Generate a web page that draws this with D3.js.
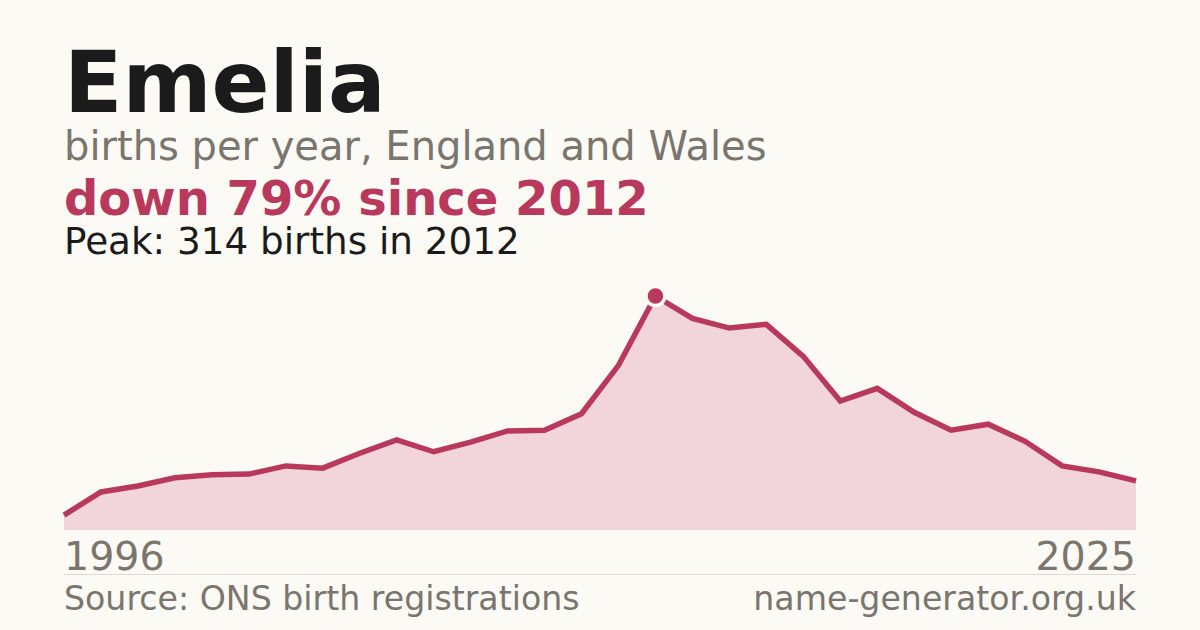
<!DOCTYPE html>
<html><head><meta charset="utf-8">
<script src="https://cdn.jsdelivr.net/npm/d3@7"></script>
<style>
html,body{margin:0;padding:0;background:#fbfaf5;}
svg{display:block;font-family:"DejaVu Sans",sans-serif;}
</style></head>
<body>
<svg id="c" width="1200" height="630"></svg>
<script>
const years = [1996,1997,1998,1999,2000,2001,2002,2003,2004,2005,2006,2007,2008,2009,2010,2011,2012,2013,2014,2015,2016,2017,2018,2019,2020,2021,2022,2023,2024,2025];
const births = [20,51,59,70,74,75,86,83,103,121,105,118,133,134,156,221,314,284,271,276,233,173,190,158,134,142,119,86,78,66];
const tickLabels = ["1996","2025"];
const title = "Emelia";
const subtitle = "births per year, England and Wales";
const headline = "down 79% since 2012";
const peakText = "Peak: 314 births in 2012";
const source = "Source: ONS birth registrations";
const site = "name-generator.org.uk";

const svg = d3.select("#c");
const L = 64, R = 1136, B = 530, T = 296;
const x = d3.scaleLinear().domain([years[0], years[years.length-1]]).range([L, R]);
const y = d3.scaleLinear().domain([0, d3.max(births)]).range([B, T]);
const data = years.map((yr,i)=>({yr, v:births[i]}));

svg.append("rect").attr("width",1200).attr("height",630).attr("fill","#fbfaf5");

svg.append("path").datum(data)
  .attr("d", d3.area().x(d=>x(d.yr)).y0(B).y1(d=>y(d.v)))
  .attr("fill","#f2d5da");
svg.append("path").datum(data)
  .attr("d", d3.line().x(d=>x(d.yr)).y(d=>y(d.v)))
  .attr("fill","none").attr("stroke","#b8395c").attr("stroke-width",5.5).attr("stroke-linejoin","miter");

const pi = births.indexOf(d3.max(births));
svg.append("circle").attr("cx",x(years[pi])).attr("cy",y(births[pi])).attr("r",9.5)
  .attr("fill","#b8395c").attr("stroke","#fbfaf5").attr("stroke-width",3.5);

// axis labels
const ax = svg.append("g");
ax.append("text").attr("x",x(years[0])).attr("y",570).attr("font-size",39.5).attr("fill","#7a756d").text(tickLabels[0]);
ax.append("text").attr("x",x(years[years.length-1])).attr("y",570).attr("text-anchor","end").attr("font-size",39.5).attr("fill","#7a756d").text(tickLabels[1]);

svg.append("line").attr("x1",L).attr("x2",R).attr("y1",574.5).attr("y2",574.5).attr("stroke","#dedad2").attr("stroke-width",1);

svg.append("text").attr("x",64).attr("y",112).attr("font-size",85.5).attr("font-weight","bold").attr("fill","#1b1b1b").text(title);
svg.append("text").attr("x",64).attr("y",160).attr("font-size",40).attr("fill","#7a756d").text(subtitle);
svg.append("text").attr("x",64).attr("y",215).attr("font-size",48).attr("font-weight","bold").attr("fill","#b8395c").text(headline);
svg.append("text").attr("x",64).attr("y",254).attr("font-size",37.3).attr("fill","#1b1b1b").text(peakText);

svg.append("text").attr("x",64).attr("y",610).attr("font-size",33.2).attr("fill","#7a756d").text(source);
svg.append("text").attr("x",1136).attr("y",610).attr("text-anchor","end").attr("font-size",33.2).attr("fill","#7a756d").text(site);
</script>
</body></html>
